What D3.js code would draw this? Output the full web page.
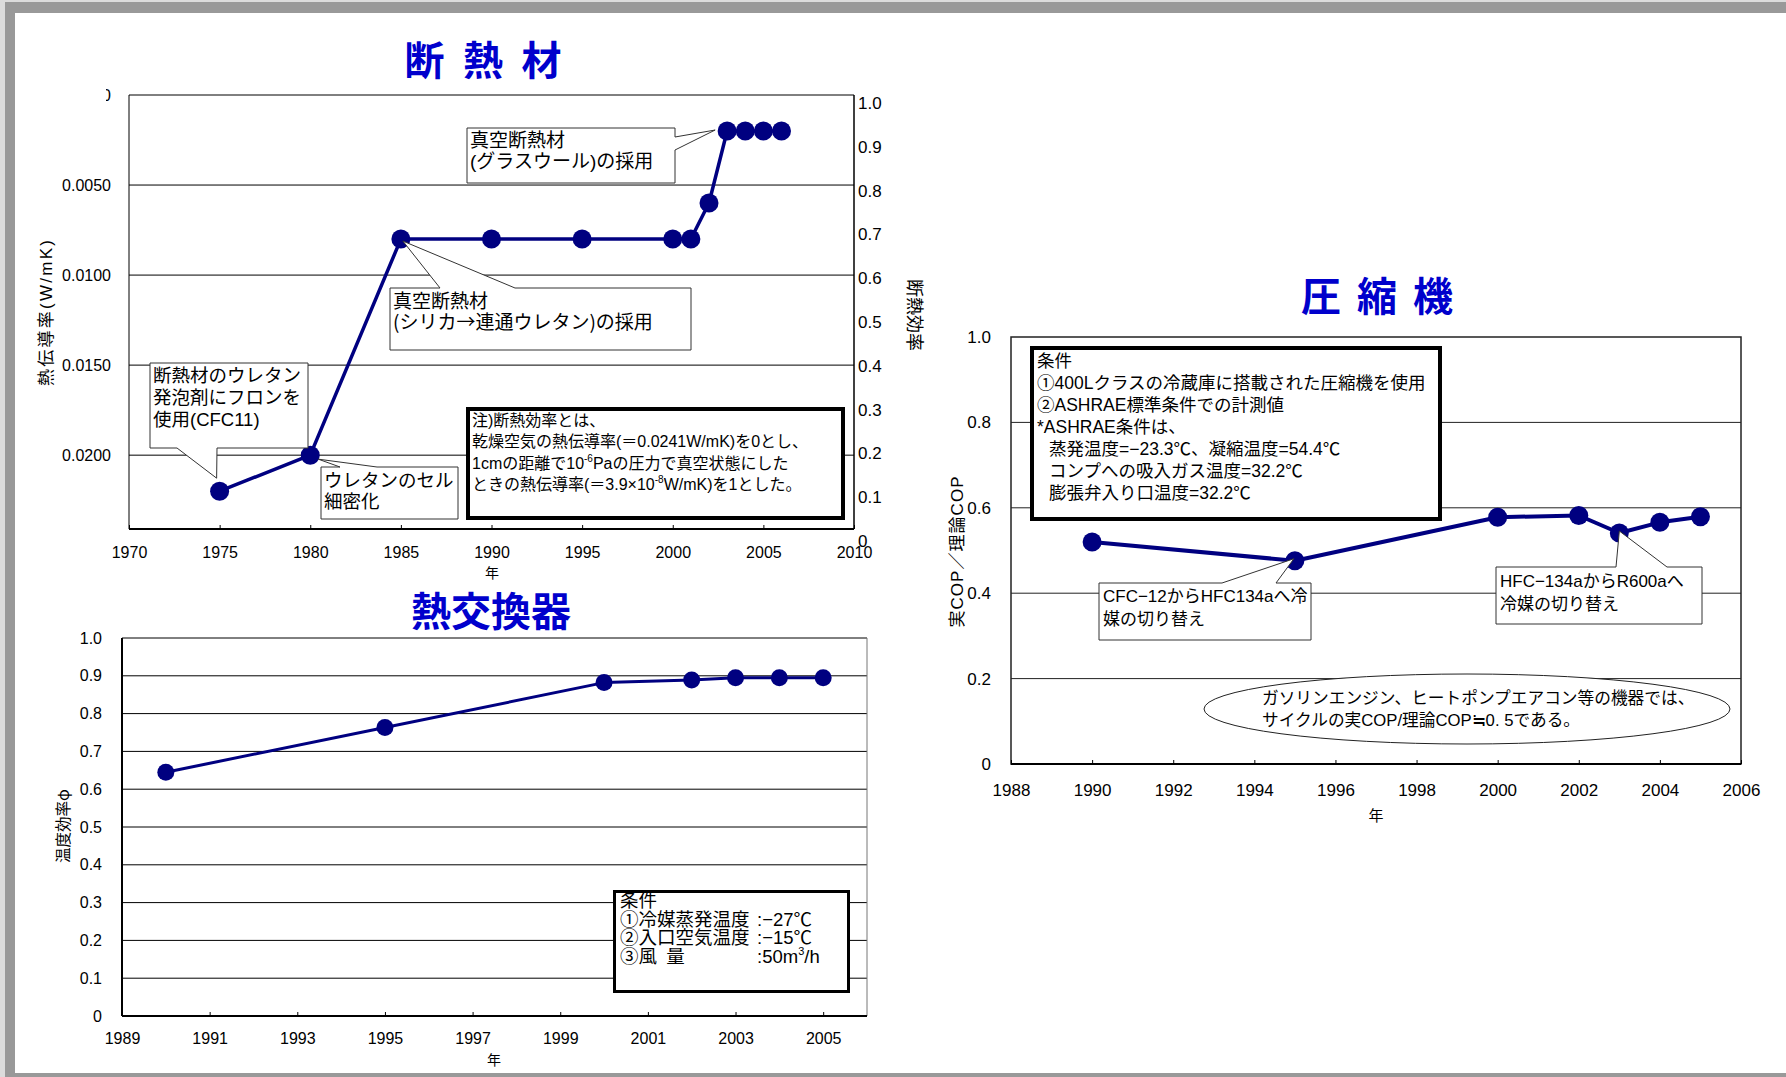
<!DOCTYPE html>
<html>
<head>
<meta charset="utf-8">
<script src="https://cdn.jsdelivr.net/npm/d3@7"></script>
<style>
  body { margin: 0; background: #fff; }
  text { font-family: "Liberation Sans", Arial, "Noto Sans CJK JP", sans-serif; fill: #000; }
  .cjk { font-family: "Noto Sans CJK JP", sans-serif; }
  .title { font-family: "Noto Sans CJK JP", sans-serif; font-weight: 700; fill: #0000cc; }
</style>
</head>
<body>
<script>
var W = 1786, H = 1077;

// 断熱材
var insYears = [1975, 1980, 1985, 1990, 1995, 2000, 2001, 2002, 2003, 2004, 2005, 2006];
var insConductivity = [0.022, 0.020, 0.008, 0.008, 0.008, 0.008, 0.008, 0.006, 0.002, 0.002, 0.002, 0.002];
var insLeftTicks = [0.005, 0.010, 0.015, 0.020];
var insRightTicks = [0, 0.1, 0.2, 0.3, 0.4, 0.5, 0.6, 0.7, 0.8, 0.9, 1.0];
var insYearTicks = [1970, 1975, 1980, 1985, 1990, 1995, 2000, 2005, 2010];

// 熱交換器
var hexYears = [1990, 1995, 2000, 2002, 2003, 2004, 2005];
var hexEfficiency = [0.645, 0.763, 0.882, 0.889, 0.895, 0.895, 0.895];
var hexYTicks = [0, 0.1, 0.2, 0.3, 0.4, 0.5, 0.6, 0.7, 0.8, 0.9, 1.0];
var hexYearTicks = [1989, 1991, 1993, 1995, 1997, 1999, 2001, 2003, 2005];

// 圧縮機
var compYears = [1990, 1995, 2000, 2002, 2003, 2004, 2005];
var compCopRatio = [0.52, 0.476, 0.578, 0.582, 0.541, 0.566, 0.579];
var compYTicks = [0, 0.2, 0.4, 0.6, 0.8, 1.0];
var compYearTicks = [1988, 1990, 1992, 1994, 1996, 1998, 2000, 2002, 2004, 2006];

var NAVY = '#000080';
var fmt1 = function(d) { return d === 0 ? '0' : d3.format('.1f')(d); };

var svg = d3.select('body').append('svg')
	.attr('width', W).attr('height', H);

// page frame
svg.append('rect').attr('width', W).attr('height', H).attr('fill', '#dcdcdc');
svg.append('rect').attr('x', 5).attr('y', 2).attr('width', W - 5).attr('height', H - 2).attr('fill', '#999');
svg.append('rect').attr('x', 15).attr('y', 13).attr('width', W - 15).attr('height', 1060).attr('fill', '#fff');

function lines(g, x, y0, dy, arr, size) {
	var t = g.append('text').attr('font-size', size);
	arr.forEach(function(s, i) {
		t.append('tspan').attr('x', x).attr('y', y0 + i * dy).text(s);
	});
	return t;
}

function calloutPath(b, side, a, c, tip) {
	var p = d3.path();
	if (side === 'top') {
		p.moveTo(b[0], b[1]); p.lineTo(a, b[1]); p.lineTo(tip[0], tip[1]); p.lineTo(c, b[1]);
		p.lineTo(b[2], b[1]); p.lineTo(b[2], b[3]); p.lineTo(b[0], b[3]);
	} else if (side === 'bottom') {
		p.moveTo(b[0], b[1]); p.lineTo(b[2], b[1]); p.lineTo(b[2], b[3]); p.lineTo(c, b[3]);
		p.lineTo(tip[0], tip[1]); p.lineTo(a, b[3]); p.lineTo(b[0], b[3]);
	} else {
		p.moveTo(b[0], b[1]); p.lineTo(b[2], b[1]); p.lineTo(b[2], a); p.lineTo(tip[0], tip[1]);
		p.lineTo(b[2], c); p.lineTo(b[2], b[3]); p.lineTo(b[0], b[3]);
	}
	p.closePath();
	return p.toString();
}

function callout(g, b, side, a, c, tip) {
	g.append('path').attr('d', calloutPath(b, side, a, c, tip))
		.attr('fill', '#fff').attr('stroke', '#333').attr('stroke-width', 1);
}

function bottomAxis(g, x, ticks, y0, labelY, size) {
	var ax = g.append('g').attr('transform', 'translate(0,' + y0 + ')')
		.call(d3.axisBottom(x).tickValues(ticks).tickSize(-4).tickFormat(d3.format('d')));
	ax.select('.domain').remove();
	ax.attr('font-family', null).attr('font-size', size);
	ax.selectAll('text').attr('y', labelY).attr('dy', '0.35em');
	return ax;
}

function series(g, x, y, xs, ys, r, lw) {
	var pts = xs.map(function(d, i) { return [d, ys[i]]; });
	g.append('path').datum(pts)
		.attr('fill', 'none').attr('stroke', NAVY).attr('stroke-width', lw)
		.attr('stroke-linejoin', 'round')
		.attr('d', d3.line().x(function(d) { return x(d[0]); }).y(function(d) { return y(d[1]); }));
	g.selectAll(null).data(pts).enter().append('circle')
		.attr('cx', function(d) { return x(d[0]); })
		.attr('cy', function(d) { return y(d[1]); })
		.attr('r', r).attr('fill', NAVY);
}

// ---------- 断熱材 ----------
(function() {
	var L = 129, R = 854, T = 95, B = 529;
	var g = svg.append('g');
	var x = d3.scaleLinear().domain([1970, 2010]).range([L, R]);
	var yL = d3.scaleLinear().domain([0, 0.0241]).range([T, B]);
	var yR = d3.scaleLinear().domain([0, 1]).range([541, 103]);

	g.append('text').attr('class', 'title').attr('x', 483).attr('y', 75)
		.attr('font-size', 40).attr('text-anchor', 'middle')
		.attr('textLength', 157).attr('lengthAdjust', 'spacing').text('断熱材');

	g.selectAll('.grid').data(insLeftTicks).enter().append('line')
		.attr('x1', L).attr('x2', R)
		.attr('y1', function(d) { return yL(d); }).attr('y2', function(d) { return yL(d); })
		.attr('stroke', '#000').attr('stroke-width', 1);

	g.append('line').attr('x1', L).attr('x2', R).attr('y1', T).attr('y2', T).attr('stroke', '#000');
	g.append('line').attr('x1', L).attr('x2', L).attr('y1', T).attr('y2', B).attr('stroke', '#000');
	g.append('line').attr('x1', R).attr('x2', R).attr('y1', T).attr('y2', B).attr('stroke', '#000').attr('stroke-width', 1.5);
	g.append('line').attr('x1', L).attr('x2', R).attr('y1', B).attr('y2', B).attr('stroke', '#000').attr('stroke-width', 2);

	var la = g.append('g').attr('transform', 'translate(' + (L - 18) + ',0)')
		.call(d3.axisLeft(yL).tickValues(insLeftTicks).tickSize(0).tickPadding(0).tickFormat(d3.format('.4f')));
	la.select('.domain').remove();
	la.attr('font-family', null).attr('font-size', 16);

	svg.append('clipPath').attr('id', 'zclip').append('rect')
		.attr('x', 106).attr('y', 80).attr('width', 20).attr('height', 30);
	g.append('text').attr('clip-path', 'url(#zclip)').attr('x', L - 18).attr('y', yL(0))
		.attr('dy', '0.35em').attr('text-anchor', 'end').attr('font-size', 16).text('0');

	var ra = g.append('g').attr('transform', 'translate(' + R + ',0)')
		.call(d3.axisRight(yR).tickValues(insRightTicks).tickSize(0).tickPadding(4).tickFormat(fmt1));
	ra.select('.domain').remove();
	ra.attr('font-family', null).attr('font-size', 17);

	bottomAxis(g, x, insYearTicks, B, 23, 16);

	g.append('text').attr('x', 492).attr('y', 573).attr('dy', '0.35em')
		.attr('text-anchor', 'middle').attr('font-size', 14).text('年');
	g.append('text').attr('transform', 'translate(46,313) rotate(-90)')
		.attr('text-anchor', 'middle').attr('dy', '0.35em').attr('font-size', 17)
		.attr('textLength', 146).attr('lengthAdjust', 'spacing').text('熱伝導率(W/mK)');
	g.append('text').attr('class', 'cjk').attr('transform', 'translate(914,315) rotate(90)')
		.attr('text-anchor', 'middle').attr('dy', '0.35em').attr('font-size', 18).text('断熱効率');

	series(g, x, yL, insYears, insConductivity, 9.5, 3.5);

	// callouts
	callout(g, [467, 128, 675, 183], 'right', 137, 150, [x(2003) - 12, yL(0.002) - 1]);
	lines(g, 470, 147, 21, ['真空断熱材', '(グラスウール)の採用'], 19);

	callout(g, [390, 288, 691, 350], 'top', 440, 515, [x(1985) + 2, yL(0.008) + 2]);
	lines(g, 393, 308, 21, ['真空断熱材', '(シリカ→連通ウレタン)の採用'], 19).attr('class', 'cjk');

	callout(g, [150, 363, 308, 448], 'bottom', 177, 217, [x(1975) - 3, yL(0.022) - 13]);
	lines(g, 153, 382, 22, ['断熱材のウレタン', '発泡剤にフロンを', '使用(CFC11)'], 18.5);

	callout(g, [321, 467, 458, 519], 'top', 340, 377, [x(1980) + 8, yL(0.020) + 4]);
	lines(g, 324, 487, 20.5, ['ウレタンのセル', '細密化'], 18.5);

	// note box
	g.append('rect').attr('x', 468).attr('y', 409).attr('width', 375).attr('height', 109)
		.attr('fill', '#fff').attr('stroke', '#000').attr('stroke-width', 4);
	var nt = g.append('text').attr('font-size', 16);
	nt.append('tspan').attr('x', 472).attr('y', 426).text('注)断熱効率とは、');
	nt.append('tspan').attr('x', 472).attr('y', 447).text('乾燥空気の熱伝導率(＝0.0241W/mK)を0とし、');
	nt.append('tspan').attr('x', 472).attr('y', 469).text('1cmの距離で10');
	nt.append('tspan').attr('dy', -7).attr('font-size', 10).text('-6');
	nt.append('tspan').attr('dy', 7).text('Paの圧力で真空状態にした');
	nt.append('tspan').attr('x', 472).attr('y', 490).text('ときの熱伝導率(＝3.9×10');
	nt.append('tspan').attr('dy', -7).attr('font-size', 10).text('-8');
	nt.append('tspan').attr('dy', 7).text('W/mK)を1とした。');
})();

// ---------- 熱交換器 ----------
(function() {
	var L = 122, R = 867, T = 638, B = 1016;
	var g = svg.append('g');
	var x = d3.scaleLinear().domain([1989, 2006]).range([L, R]);
	var y = d3.scaleLinear().domain([0, 1]).range([B, T]);

	g.append('text').attr('class', 'title').attr('x', 491).attr('y', 626)
		.attr('font-size', 40).attr('text-anchor', 'middle').text('熱交換器');

	g.selectAll('.grid').data(hexYTicks.filter(function(d) { return d > 0 && d < 1; })).enter().append('line')
		.attr('x1', L).attr('x2', R)
		.attr('y1', function(d) { return y(d); }).attr('y2', function(d) { return y(d); })
		.attr('stroke', '#000').attr('stroke-width', 1);
	g.append('line').attr('x1', L).attr('x2', R).attr('y1', T).attr('y2', T).attr('stroke', '#000');
	g.append('line').attr('x1', R).attr('x2', R).attr('y1', T).attr('y2', B).attr('stroke', '#777');
	g.append('line').attr('x1', L).attr('x2', L).attr('y1', T).attr('y2', B).attr('stroke', '#000').attr('stroke-width', 2);
	g.append('line').attr('x1', L).attr('x2', R).attr('y1', B).attr('y2', B).attr('stroke', '#000').attr('stroke-width', 2);

	var la = g.append('g').attr('transform', 'translate(' + (L - 20) + ',0)')
		.call(d3.axisLeft(y).tickValues(hexYTicks).tickSize(0).tickPadding(0).tickFormat(fmt1));
	la.select('.domain').remove();
	la.attr('font-family', null).attr('font-size', 16);

	bottomAxis(g, x, hexYearTicks, B, 22, 16);

	g.append('text').attr('x', 494).attr('y', 1060).attr('dy', '0.35em')
		.attr('text-anchor', 'middle').attr('font-size', 14).text('年');
	g.append('text').attr('class', 'cjk').attr('transform', 'translate(64,826) rotate(-90)')
		.attr('text-anchor', 'middle').attr('dy', '0.35em').attr('font-size', 15.5).text('温度効率φ');

	series(g, x, y, hexYears, hexEfficiency, 8.5, 3);

	g.append('rect').attr('x', 614.5).attr('y', 891.5).attr('width', 234).attr('height', 100)
		.attr('fill', '#fff').attr('stroke', '#000').attr('stroke-width', 3);
	lines(g, 620, 907, 18.5, ['条件', '①冷媒蒸発温度', '②入口空気温度', '③風\u2002量'], 18.5);
	var c = g.append('text').attr('font-size', 18.5);
	c.append('tspan').attr('x', 757).attr('y', 925.5).text(':−27℃');
	c.append('tspan').attr('x', 757).attr('y', 944).text(':−15℃');
	c.append('tspan').attr('x', 757).attr('y', 962.5).text(':50m');
	c.append('tspan').attr('dy', -8).attr('font-size', 11).text('3');
	c.append('tspan').attr('dy', 8).text('/h');
})();

// ---------- 圧縮機 ----------
(function() {
	var L = 1011, R = 1741, T = 337, B = 764;
	var g = svg.append('g');
	var x = d3.scaleLinear().domain([1988, 2006]).range([L, R]);
	var y = d3.scaleLinear().domain([0, 1]).range([B, T]);

	g.append('text').attr('class', 'title').attr('x', 1377).attr('y', 311)
		.attr('font-size', 40).attr('text-anchor', 'middle')
		.attr('textLength', 152).attr('lengthAdjust', 'spacing').text('圧縮機');

	g.selectAll('.grid').data(compYTicks.filter(function(d) { return d > 0 && d < 1; })).enter().append('line')
		.attr('x1', L).attr('x2', R)
		.attr('y1', function(d) { return y(d); }).attr('y2', function(d) { return y(d); })
		.attr('stroke', '#222').attr('stroke-width', 1);
	g.append('rect').attr('x', L).attr('y', T).attr('width', R - L).attr('height', B - T)
		.attr('fill', 'none').attr('stroke', '#222').attr('stroke-width', 1.5);
	g.append('line').attr('x1', L).attr('x2', R).attr('y1', B).attr('y2', B).attr('stroke', '#000').attr('stroke-width', 2);

	var la = g.append('g').attr('transform', 'translate(' + (L - 20) + ',0)')
		.call(d3.axisLeft(y).tickValues(compYTicks).tickSize(0).tickPadding(0).tickFormat(fmt1));
	la.select('.domain').remove();
	la.attr('font-family', null).attr('font-size', 17);

	bottomAxis(g, x, compYearTicks, B, 26, 17);

	g.append('text').attr('x', 1376).attr('y', 816).attr('dy', '0.35em')
		.attr('text-anchor', 'middle').attr('font-size', 15).text('年');
	g.append('text').attr('transform', 'translate(957,552) rotate(-90)')
		.attr('text-anchor', 'middle').attr('dy', '0.35em').attr('font-size', 17)
		.attr('textLength', 151).attr('lengthAdjust', 'spacing').text('実COP／理論COP');

	series(g, x, y, compYears, compCopRatio, 9.5, 4);

	// condition box
	g.append('rect').attr('x', 1032).attr('y', 348).attr('width', 408).attr('height', 171)
		.attr('fill', '#fff').attr('stroke', '#000').attr('stroke-width', 4);
	lines(g, 1037, 367, 22, ['条件', '①400Lクラスの冷蔵庫に搭載された圧縮機を使用',
		'②ASHRAE標準条件での計測値', '*ASHRAE条件は、'], 17.5);
	lines(g, 1049, 455, 22, ['蒸発温度=−23.3℃、凝縮温度=54.4℃', 'コンプへの吸入ガス温度=32.2℃',
		'膨張弁入り口温度=32.2℃'], 17.5);

	callout(g, [1099, 583, 1311, 640], 'top', 1222, 1276, [x(1995) - 1, y(0.476) - 2]);
	lines(g, 1103, 602, 23, ['CFC−12からHFC134aへ冷', '媒の切り替え'], 17);

	callout(g, [1496, 567, 1702, 624], 'top', 1616, 1667, [x(2003), y(0.541) - 2]);
	lines(g, 1500, 587, 23, ['HFC−134aからR600aへ', '冷媒の切り替え'], 17);

	g.append('ellipse').attr('cx', 1467).attr('cy', 709).attr('rx', 263).attr('ry', 35)
		.attr('fill', '#fff').attr('stroke', '#222').attr('stroke-width', 1);
	lines(g, 1262, 704, 22, ['ガソリンエンジン、ヒートポンプエアコン等の機器では、',
		'サイクルの実COP/理論COP≒0. 5である。'], 16.7);
})();
</script>
</body>
</html>
